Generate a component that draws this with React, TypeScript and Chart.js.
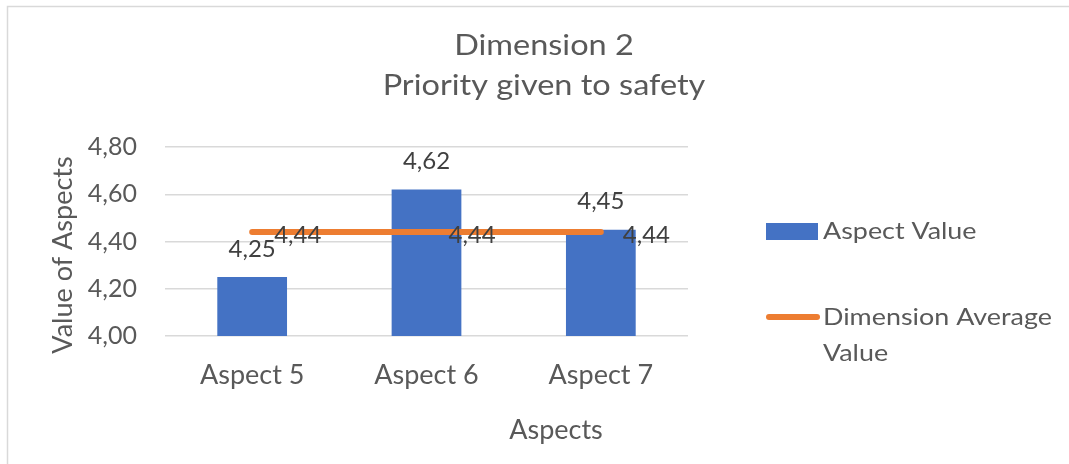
import React, { useEffect, useRef } from 'react';
import { Chart, registerables } from 'chart.js';

Chart.register(...registerables);

const categories = ['Aspect 5', 'Aspect 6', 'Aspect 7'];
const aspectValues = [4.25, 4.62, 4.45];
const averageValues = [4.44, 4.44, 4.44];
const yMin = 4.0;
const yMax = 4.8;
const yStep = 0.2;
const titleLines = ['Dimension 2', 'Priority given to safety'];
const barSeriesName = 'Aspect Value';
const lineSeriesName = ['Dimension Average', 'Value'];
const xAxisTitle = 'Aspects';
const yAxisTitle = 'Value of Aspects';

const FONT = 'Lato, "Open Sans", sans-serif';
const TEXT = '#595959';
const LABEL = '#404040';
const BLUE = '#4472C4';
const ORANGE = '#ED7D31';
const GRID = '#d9d9d9';

const fmt = (v: number) => v.toFixed(2).replace('.', ',');

function drawText(
  ctx: CanvasRenderingContext2D,
  text: string,
  x: number,
  y: number,
  size: number,
  align: CanvasTextAlign,
  color: string,
  sx = 1,
  rotate = 0
) {
  ctx.save();
  ctx.translate(x, y);
  if (rotate) ctx.rotate(rotate);
  ctx.scale(sx, 1);
  ctx.font = `${size}px ${FONT}`;
  ctx.fillStyle = color;
  ctx.textAlign = align;
  ctx.textBaseline = 'middle';
  ctx.fillText(text, 0, 0);
  ctx.restore();
}

const decor = {
  id: 'decor',
  beforeDraw(chart: any) {
    const ctx = chart.ctx;
    ctx.save();
    ctx.fillStyle = '#ffffff';
    ctx.fillRect(0, 0, chart.width, chart.height);
    ctx.strokeStyle = GRID;
    ctx.lineWidth = 1.5;
    ctx.beginPath();
    ctx.moveTo(7.5, 464);
    ctx.lineTo(7.5, 6.5);
    ctx.lineTo(1069, 6.5);
    ctx.stroke();
    ctx.restore();
  },
  afterDatasetsDraw(chart: any) {
    const ctx = chart.ctx;
    const barMeta = chart.getDatasetMeta(0);
    barMeta.data.forEach((el: any, i: number) => {
      drawText(ctx, fmt(aspectValues[i]), el.x, el.y - 28, 24, 'center', LABEL);
    });
    const lineMeta = chart.getDatasetMeta(1);
    lineMeta.data.forEach((el: any, i: number) => {
      drawText(ctx, fmt(averageValues[i]), el.x + 22, el.y + 3, 24, 'left', LABEL);
    });
  },
  afterDraw(chart: any) {
    const ctx = chart.ctx;
    // chart title
    drawText(ctx, titleLines[0], 544, 46, 28, 'center', TEXT, 1.16);
    drawText(ctx, titleLines[1], 544, 86, 28, 'center', TEXT, 1.16);

    // axis titles
    drawText(ctx, xAxisTitle, 556, 430, 27, 'center', TEXT);
    drawText(ctx, yAxisTitle, 63, 255, 27, 'center', TEXT, 1, -Math.PI / 2);

    // legend
    ctx.save();
    ctx.fillStyle = BLUE;
    ctx.fillRect(766, 223, 52, 17);
    ctx.strokeStyle = ORANGE;
    ctx.lineWidth = 6;
    ctx.lineCap = 'round';
    ctx.beginPath();
    ctx.moveTo(769, 317);
    ctx.lineTo(817, 317);
    ctx.stroke();
    ctx.restore();
    drawText(ctx, barSeriesName, 823, 231, 24, 'left', TEXT, 1.12);
    drawText(ctx, lineSeriesName[0], 823, 317, 24, 'left', TEXT, 1.12);
    drawText(ctx, lineSeriesName[1], 823, 353, 24, 'left', TEXT, 1.12);
  },
};

export default function App() {
  const ref = useRef<HTMLCanvasElement | null>(null);
  useEffect(() => {
    document.body.style.margin = '0';
    const canvas = ref.current;
    if (!canvas) return;
    const chart = new Chart(canvas, {
      type: 'bar',
      data: {
        labels: categories,
        datasets: [
          {
            type: 'bar',
            label: barSeriesName,
            data: aspectValues,
            backgroundColor: BLUE,
            categoryPercentage: 1,
            barPercentage: 0.4,
            order: 1,
          },
          {
            type: 'line',
            label: lineSeriesName.join(' '),
            data: averageValues,
            borderColor: ORANGE,
            backgroundColor: ORANGE,
            borderWidth: 6,
            borderCapStyle: 'round',
            pointRadius: 0,
            pointHoverRadius: 0,
            fill: false,
            order: 0,
          },
        ],
      } as any,
      plugins: [decor],
      options: {
        animation: false,
        responsive: false,
        maintainAspectRatio: false,
        layout: { padding: { left: 14, right: 381, top: 147, bottom: 20 } },
        plugins: {
          legend: { display: false },
          title: { display: false },
          tooltip: { enabled: false },
        },
        scales: {
          x: {
            grid: { display: false },
            border: { display: false },
            ticks: { color: TEXT, font: { family: FONT, size: 27 }, padding: 15 },
            afterFit: (s: any) => {
              s.height = 108;
            },
          },
          y: {
            min: yMin,
            max: yMax,
            grid: { color: GRID, lineWidth: 1.5, drawTicks: false },
            border: { display: false },
            ticks: {
              stepSize: yStep,
              color: TEXT,
              font: { family: FONT, size: 25 },
              padding: 28,
              callback: (v: any) => fmt(Number(v)),
            },
            afterFit: (s: any) => {
              s.width = 151;
            },
          },
        },
      } as any,
    });
    return () => chart.destroy();
  }, []);
  return (
    <div style={{ width: 1069, height: 464, background: '#fff' }}>
      <canvas ref={ref} width={1069} height={464} style={{ display: 'block' }} />
    </div>
  );
}
